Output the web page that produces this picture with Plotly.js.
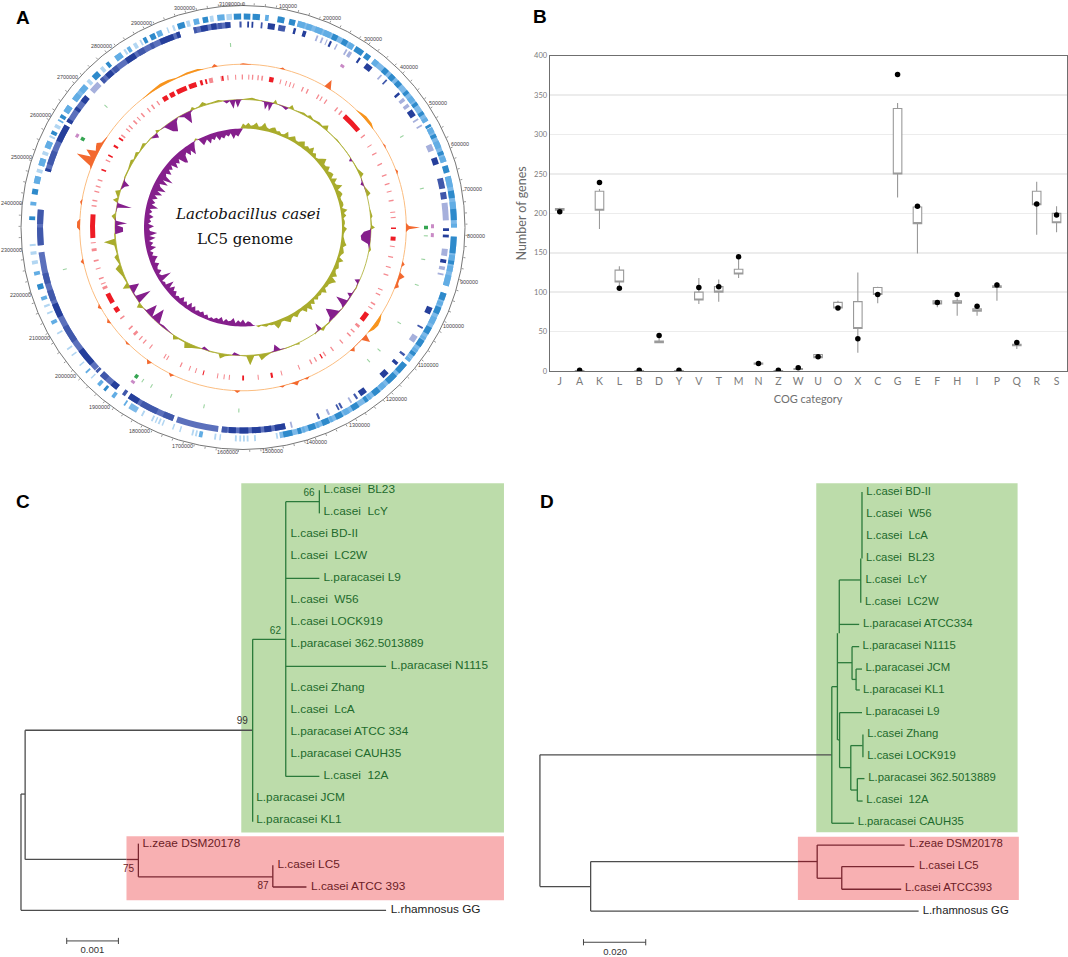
<!DOCTYPE html>
<html><head><meta charset="utf-8">
<script src="https://cdn.plot.ly/plotly-3.0.1.min.js"></script>
<style>html,body{margin:0;padding:0;background:#fff}</style></head>
<body><div id="chart" style="width:1068px;height:957px"></div>
<script>
/* ---------- Panel A: circular genome (angles in degrees clockwise from the origin) ---------- */
const genomeTickBp = [];
const genomeLength = 3130000;
const genomeMajorLabels = [0,100000,200000,300000,400000,500000,600000,700000,800000,900000,1000000,1100000,1200000,1300000,1400000,1500000,1600000,1700000,1800000,1900000,2000000,2100000,2200000,2300000,2400000,2500000,2600000,2700000,2800000,2900000,3000000,3100000];
const outerBand = [[15,31],[38,60],[62,72],[76,90],[92.5,106],[108,128],[130,170],[210,212.4],[282,284],[287,289],[292,294],[303,305],[307,312],[323,325]];
const outerStrong = [[0.2,2],[2.6,4.6],[9.4,11.3],[12.6,14.3],[25,26.5],[28,29.5],[32,34.5],[35.2,36.8],[41.5,43],[44,45.5],[46.5,48],[50,51],[54,55],[57,58],[61,61.8],[64,65],[69,70],[73,75],[80,82],[85,88],[92.5,97],[99,100],[108,110],[112,114],[118,120],[122,124],[126,127],[130,133],[134,137],[140,142],[144,145],[147,149],[152,154],[156,158],[160,162],[164,165],[166.5,169],[220,220.8],[253,254.5],[272,273],[279,280.5],[296,297],[301,302],[315,317],[320,321],[332,333],[334,335.5],[342,344],[349,350.5],[357.5,359.5]];
const outerMid = [[6,7],[15,17],[17.5,19],[20,22],[22.5,24.5],[30,31.5],[38,39.5],[52,53.5],[59,60],[62,63.5],[66,68],[70.5,72],[76,79],[83,85],[89,90],[97.5,99],[100.5,102],[103,106],[110.5,111.5],[115,117],[121,121.7],[125,125.8],[128,129],[138,139.5],[143,143.7],[150,151.5],[155,155.7],[159,159.6],[163,163.6],[191,192],[213.5,214],[217,218],[222,223],[227,227.5],[243,244],[250,251],[257,258],[276,277],[282,284],[287,289],[292,294],[300,300.5],[303,305],[307,309],[310,312],[323,325],[327,328],[336,337.5],[346.5,348],[353,355]];
const outerPale = [[170.5,171],[176.5,177],[178.5,179],[179.5,180],[180.5,181],[181.7,182.2],[186,186.4],[187.3,187.8],[192.5,193],[193.5,194],[197,197.4],[199,199.4],[202,202.4],[203,203.5],[204,204.4],[205,205.5],[208,208.5],[225,225.4],[229.6,230],[233,233.4],[235,235.5],[240,240.5],[246,246.5],[248,248.6],[260,261],[262.6,263.5],[265,265.5],[285,286],[290,291],[295,295.6],[298,299],[313,314],[318,319],[326,326.6],[329,330],[331,331.5],[339,339.4],[340.6,341.2],[344.5,345.5],[351,352],[355.5,357]];
const darkBand = [[168,186],[187,199],[200,214],[218,224],[226,263],[265,275],[286,300],[301,309],[316,342],[346,356]];
const darkStrong = [[1.2,1.7],[2.4,2.9],[7,9],[14.3,15],[17,18],[25,25.6],[34.3,34.9],[37,39],[49,49.7],[55,57],[70,72],[90.2,91],[92,92.8],[99,100],[113,115],[131,132],[135,137],[143,145],[168,171],[172,174],[175,177.5],[178.5,181],[182,184],[218,220],[211,214],[228,233],[244,248],[286,286.8],[295,300],[301,302],[305,306],[308,310],[318,320],[325,328],[336,340],[341,342],[348,350],[351,352.5],[355,356.5]];
const darkMid = [[5,5.5],[10,12],[44,44.5],[76,79],[80,82],[119,119.5],[128,128.7],[146,146.6],[151,151.6],[152,152.5],[158,158.6],[184.5,186],[200,203],[205,210],[215,216],[222,224],[225,225.8],[236,241],[249,252],[254,257],[265,270],[271,275],[288,292],[316,317],[320.5,322],[329,331],[333,334],[346,346.8],[353,354],[359,359.6]];
const darkPale = [[21,21.5],[22.5,23],[24,24.3],[27,27.4],[30,30.5],[31,32],[42,42.5],[51,52],[53,54],[58,58.5],[60,60.5],[66,68],[83,88],[96,98],[101,102],[103,103.5],[122,124],[148,148.5],[155,155.6],[166,166.5],[312,315]];
const redStrong = [[328,330],[331,333],[334,338],[339,342],[42.3,50],[90,90.6],[93.5,95],[124.5,128],[236,238],[240,244],[266,275],[168.6,169.4],[148.5,149],[352,352.6],[10,11.7],[343.5,344.5],[345.5,346.2],[195,195.4],[179.6,180.3],[302,302.8],[305.5,306.2],[292,292.6],[298,298.6]];
const redPale = [[347,348.5],[351.5,352],[354,354.5],[357,357.4],[359.5,360],[2,2.4],[3.4,3.9],[5.5,6],[7,7.6],[14.2,14.6],[16.4,16.8],[18,18.4],[19.4,19.8],[23,23.5],[25,25.5],[29.5,30],[31,31.4],[33,33.5],[38,38.5],[40,40.6],[52.5,53],[57,57.4],[60.5,61],[65,65.5],[69.5,70],[73,73.5],[76,76.4],[79.5,80],[84,84.4],[86,86.4],[97,97.4],[101,101.5],[105,105.4],[108,108.5],[114,114.4],[116,116.5],[120,120.6],[122,122.4],[130,131],[133,133.5],[135,135.6],[139,139.5],[143.5,144],[147,147.5],[151,151.5],[153,153.5],[158,158.4],[165,165.4],[174,174.4],[185,185.4],[187,187.4],[189.5,189.9],[198,198.4],[200.5,200.9],[204,204.5],[209.8,210.2],[211,211.4],[217.5,217.9],[220.5,221],[222.5,223],[225,226],[228,228.6],[233,233.6],[246,247],[248,248.4],[250,250.6],[254,254.4],[257,257.6],[261,262],[264,264.4],[278,278.5],[280,280.5],[283.5,284],[285.5,286],[288,288.5],[296,296.5],[307,307.6],[310,310.5],[311.5,312],[314,314.6],[316,316.4],[318,318.6],[321,321.5],[323,323.6],[325.5,326]];
const rnaPaleAngle = [356.1,311.5,60.2,77.7,92.6,100,108.3,121.4,132,136.7,181.3,192.3,203.1,210,213.2,256.8];
const rnaStrongAngle = [215.6,298.9,90];
const trnaAngle = [31.6,89.6,92.3,299,215.5];
// GC content: [angle, height above the baseline]
const gcSpikes = [[0,1.2],[3,.3],[13,.3],[14,2],[15,.3],[30,.3],[31,9],[32.5,.3],[59,.3],[60,1.5],[61,.3],[69,.3],[70,2],[71,.3],[88.5,.4],[89.5,3],[90,14],[90.6,3],[91.5,.4],[102,.4],[103,3],[104,.4],[106,.5],[107,6],[108.5,2],[110,2],[111,4],[112,.4],[131,.4],[132,8],[133.5,.6],[137,.4],[138,4],[139,.4],[156,.4],[157,2],[158,.5],[160,1],[161,4],[162,1.5],[163,.4],[165,.4],[166,2],[167,.4],[181,.4],[182,2.5],[183,.4],[205,.4],[206,3],[207,.4],[214,.4],[215,4],[216,.4],[224,.4],[225,2],[226,.4],[234,.4],[235,3],[236,.4],[240,.4],[241,3],[242,.4],[257,.4],[258,3],[259,.4],[269,.4],[270,3],[272,3],[273,.4],[278,.4],[279,2],[280,.4],[291,.4],[292,2],[294,19],[295,5],[296.5,12],[297.5,3],[299,5],[300,6],[301,2],[303.6,.5],[349,.4],[350,3],[351,.4],[359,.5]];
const gcArcs = [[322,.3],[326,1.5],[330,3],[333,2.5],[336,1],[340,2],[344,2],[346,.3],[44,.3],[46,2],[48,3],[51,2.5],[53,.3],[122,.3],[124,3],[126,4],[128,3],[130,.3]].sort((a,b)=>a[0]-b[0]);
// Outer skew track: [angle, outward + / inward -]
const skewOuter = [[0,.5],[4,2],[6,1],[8,.5],[9.5,-1],[10.5,-8],[11.5,-2],[12.5,-9],[13.5,-1],[14.4,4],[15.5,.5],[18,-1],[20,-3],[21,.5],[22,4],[23.5,.5],[26,1],[28,2],[30,1],[31,3],[33,1],[36,2],[38,1],[40,5],[41,.5],[45,.5],[47,1],[50,.5],[54,.5],[57,.5],[58,-3],[59,.5],[63,1],[66,4],[67,.5],[69,-1],[70,-3],[71,-.5],[75,4],[76,.5],[82,.5],[85,2],[86,.5],[89,1],[90,4],[91,-1],[92,-7],[94,-10],[96,-9],[97.5,-2],[100,2],[101,.5],[108,.5],[114,-1],[115,-5],[116,-1],[118,1],[121,-1],[122,-5],[123,-1],[125,-1],[126.5,-12],[128,-3],[129,.5],[131,-1],[133,-8],[134.5,-12],[136,-3],[138,1],[140,1],[142,3],[143,-8],[144,-1],[146,1],[154,2],[156,.5],[160,.5],[163,-1],[165,-7],[166,-1],[168,1],[170,3],[172,6],[173,1],[175,1],[177,10],[178.5,1],[181,.5],[184,-3],[185,.5],[188,2],[190,5],[191,.5],[195,1],[198,-3],[199,.5],[203,3],[206,6],[207,1],[210,1],[212,4],[213,.5],[216,-1],[219,-2],[221,-1],[224,-14],[225.5,-1],[228,-12],[229.5,-1],[231,.5],[233,5],[234,.5],[235.6,-16],[237.5,-1],[239,-1],[241.7,-10],[243,7],[244.5,1],[248,2],[252,6],[253.5,1],[257,4],[258,1],[262,2],[264,12],[265,1],[267,1],[268,-8],[270,-8],[271,-2],[272,-12],[273,-1],[275,4],[276.5,.5],[279,-1],[280,-15],[281,-1],[282,5],[283.5,1],[286,5],[287,.5],[289,-3],[290,-7],[291.5,-1],[293,1],[297,1],[301,3],[302,1],[305,3],[306,.5],[310,3],[311,.5],[314,1],[317,-5],[317.5,-1],[318,3],[319.5,.5],[322,-1],[324,-9],[326,-12],[328,-3],[329.5,.5],[332,-3],[334,-12],[335.5,-2],[337,3],[338,.5],[340,1],[342,4],[343.5,1],[346,1],[349,2],[351,.5],[352.5,-3],[354,-1],[355.5,-9],[356.5,-1],[357.5,-8],[359,-1]];
// Inner skew track: readings at equal steps around the circle
const skewInner = [5,3,6,3,4,7,3,4,8,4,3,5,6,3,4,2,3,7,2,4,6,3,3,5,7,3,5,4,8,3,5,2,3,6,9,4,4,7,3,5,6,2,7,3,4,9,3,5,6,3,3,4,4,2,7,3,5,2,3,3,2,5,3,2,2,3,4,6,3,4,5,3,2,7,3,4,5,3,4,7,3,9,6,4,4,3,7,3,4,3,5,2,6,3,9,4,7,3,3,4,6,3,4,7,5,3,3,6,8,3,3,2,3,2,1,2,0,-1,-4,-5,-3,-7,-4,-6,-3,-8,-5,-4,-6,-3,-7,-4,-5,-3,-4,-2,-5,-3,-6,-4,-5,-3,-7,-4,-8,-3,-6,-4,-8,-4,-5,-3,-7,-5,-9,-4,-11,-3,-4,-2,-14,-5,-3,-7,-4,-5,-8,-4,-6,-9,-4,-6,-3,-10,-5,-8,-4,-11,-5,-13,-6,-5,-10,-4,-7,-5,-9,-4,-7,-4,-12,-5,-8,-4,-9,-5,-12,-6,-14,-7,-5,-13,-6,-16,-7,-5,-10,-5,-8,-4,-11,-6,-9,-5,-12,-14,-7,-5,-10,-6,-12,-6,-1,2,-1,-8,-6,-4,-9,-5,-7,-4,-9,-6,-8,-5,-7,-4,-10,-6,-8,-4];

/* ---------- Panel B: COG categories ---------- */
const cogCategories = ['J','A','K','L','B','D','Y','V','T','M','N','Z','W','U','O','X','C','G','E','F','H','I','P','Q','R','S'];
const cogQ1    = [204,0,204,113,0,36,0,90,100,123,8.5,0,2,17,80,54,97,250,187,85,86,76,106,32,211,188];
const cogQ3    = [206,0.5,228,128,0.5,38,0.5,100,107,129,10,0.5,3,21,87,88,106,333,208,89,89,79,108,34,228,200];
const cogLow   = [203,0,180,105,0,36,0,85,88,118,8,0,2,16,79,23,86,220,149,81,70,70,89,28,173,176];
const cogHigh  = [207,0.5,231,133,0.5,43,0.5,118,116,145,10,0.5,3,21,89,125,107,340,210,90,92,82,113,36,240,209];
const cogLC5   = [202,1,239,105,1,45,1,106,107,145,9.5,1,4,18,80,41,97,376,209,87,97,82,109,36,212,198];
const cogTicks = [0,50,100,150,200,250,300,350,400];

/* ---------- Panel C: tree (distance in 0.001 units, row = leaf order) ---------- */
const cLeavesGreen = ['L.casei  BL23','L.casei  LcY','L.casei BD-II','L.casei  LC2W','L.paracasei L9','L.casei  W56','L.casei LOCK919','L.paracasei 362.5013889','L.paracasei N1115','L.casei Zhang','L.casei  LcA','L.paracasei ATCC 334','L.paracasei CAUH35','L.casei  12A','L.paracasei JCM','L.paracasei KL1'];
const cLeafDistGreen = [5.85,5.85,5.21,5.21,5.85,5.21,5.21,5.21,7.15,5.21,5.21,5.21,5.21,5.85,4.55,4.55];
const cLeafRowGreen = [1,2,3,4,5,6,7,8,9,10,11,12,13,14,15,16];
const cLeavesRed = ['L.zeae DSM20178','L.casei LC5','L.casei ATCC 393'];
const cLeafDistRed = [2.35,4.96,5.61];
const cLeafRowRed = [17.05,18.03,19.02];
const cHGreen = [[4.48,5.12,7.77],[5.12,5.77,1.52],[5.12,5.77,5],[5.12,7.06,9],[5.12,5.77,14]];
const cVGreen = [[4.48,7.77,16.06],[5.12,1.52,14],[5.77,1,2.05]];
const cHRed = [[2.04,2.27,17.77],[2.27,4.87,18.56],[4.87,5.52,19.02]];
const cVRed = [[2.27,17.05,18.56],[4.87,18.03,19.02]];
const cHBlack = [[0,0.08,14.8],[0.08,4.48,11.9],[0.08,2.04,17.77],[0,7.06,20.08]];
const cVBlack = [[0,14.8,20.08],[0.08,11.9,17.77]];
const cSupport = ['66','62','99','75','87'];
const cSupportDist = [5.57,4.92,4.28,2.08,4.68];
const cSupportRow = [1.14,7.4,11.5,18.23,18.98];

/* ---------- Panel D: tree (distance in 0.001 units) ---------- */
const dLeavesGreen = ['L.casei BD-II','L.casei  W56','L.casei  LcA','L.casei  BL23','L.casei  LcY','L.casei  LC2W','L.paracasei ATCC334','L.paracasei N1115','L.paracasei JCM','L.paracasei KL1','L.paracasei L9','L.casei Zhang','L.casei LOCK919','L.paracasei 362.5013889','L.casei  12A','L.paracasei CAUH35'];
const dLeafDistGreen = [104.9,104.9,104.9,104.8,104.6,104.5,103.8,103.7,104.6,103.8,104.6,105.2,105.2,105.5,104.9,102.1];
const dLeafRowGreen = [1,2,3,4,5,6,7,8,9,10,11,12,13,14,15,16];
const dLeavesRed = ['L.zeae DSM20178','L.casei LC5','L.casei ATCC393'];
const dLeafDistRed = [118.7,121.8,117.3];
const dLeafRowRed = [17.03,18.03,19.03];
const dHGreen = [[93.8,100.9,16.06],[93.8,95.6,9.85],[96.2,103.1,5],[96.2,102.6,7.02],[95.7,100.3,8.76],[100.3,102.6,8.03],[100.3,101.6,9.52],[101.6,103.5,9.05],[101.6,102.8,10],[95.7,96.3,12.27],[96.3,103.5,11.03],[96.3,99.9,13.53],[99.9,103.7,12.53],[99.9,102,14.55],[102,104.3,14.03],[102,103.7,15.05]];
const dVGreen = [[93.8,9.85,16.06],[95.6,7.42,12.27],[96.2,5,7.42],[100.3,8.03,9.52],[101.6,9.05,10],[96.3,11.03,13.53],[99.9,12.53,14.55],[103.8,12.02,13.06],[102,14.03,15.05],[103.1,4.02,6.03],[103.5,1,4.02]];
const dHRed = [[82.9,89.1,17.8],[89.1,117.2,17.05],[89.1,97,18.56],[97,120.3,18.03],[97,116.1,19.06]];
const dVRed = [[89.1,17.05,18.56],[97,18.03,19.06]];
const dHBlack = [[0,93.8,12.95],[0,16.3,18.94],[16.3,82.9,17.8],[16.3,121.7,20.05]];
const dVBlack = [[0,12.95,18.94],[16.3,17.8,20.05]];

/* ---------- helpers ---------- */
for (let b = 0; b < genomeLength; b += 25000) genomeTickBp.push(b);
const bpToDeg = b => b / genomeLength * 360;
function ring(blocks, base, h, color){
  return {type:'barpolar', theta:blocks.map(b=>(b[0]+b[1])/2), width:blocks.map(b=>Math.max(b[1]-b[0],0.3)),
    r:blocks.map(()=>h), base:blocks.map(()=>base), marker:{color:color,line:{width:0}}, hoverinfo:'skip'};
}
function marks(angles, base, h, w, color){ return ring(angles.map(a=>[a-w/2,a+w/2]), base, h, color); }
// Each run of close readings becomes its own polygon, so no chord cuts across the circle.
function band(pairs, base, pick, color, maxGap){
  const th=[],r=[]; let run=[];
  const flush=()=>{ if(run.length>1){
      run.forEach(p=>{th.push(p[0]); r.push(base+pick(p[1]));});
      for(let i=run.length-1;i>=0;i--){th.push(run[i][0]); r.push(base);}
      th.push(null); r.push(null);} run=[]; };
  pairs.forEach(p=>{ if(run.length && p[0]-run[run.length-1][0]>maxGap) flush(); run.push(p); });
  flush();
  return {type:'scatterpolar', mode:'lines', theta:th, r:r, fill:'toself', fillcolor:color, line:{width:0,color:color}, connectgaps:false, hoverinfo:'skip'};
}
function circle(r,color,w){
  const th=genomeTickBp.map(bpToDeg).concat([360]);
  return {type:'scatterpolar',mode:'lines',theta:th,r:th.map(()=>r),line:{color,width:w},hoverinfo:'skip'};
}
function tree(h,v,color,xa,ya,w){
  const x=[],y=[];
  h.forEach(s=>{x.push(s[0],s[1],null); y.push(s[2],s[2],null);});
  v.forEach(s=>{x.push(s[0],s[0],null); y.push(s[1],s[2],null);});
  return {type:'scatter',mode:'lines',x,y,xaxis:xa,yaxis:ya,line:{color,width:w||1.3},hoverinfo:'skip'};
}
function labels(text,x,y,color,xa,ya,size,pos){
  return {type:'scatter',mode:'text',x,y,text,xaxis:xa,yaxis:ya,textposition:pos||'middle right',cliponaxis:false,
    textfont:{family:'Liberation Sans, Arial, sans-serif',size:size||11.8,color},hoverinfo:'skip'};
}
const GREEN='#2b7a3b', GREENT='#1d6a2c', RED='#7a2630', REDT='#6b1c26', BLK='#4d4d4d';
const same=v=>v, pos=v=>Math.max(v,0), neg=v=>Math.min(v,0);
const skewInnerPairs = skewInner.map((v,i)=>[i*360/skewInner.length,v]).concat([[360,skewInner[0]]]);
const skewOuterPairs = skewOuter.concat([[360,skewOuter[0][1]]]);
const gcPairs = gcSpikes.concat([[360,gcSpikes[0][1]]]);

const traces = [
  ring(outerBand,208,6,'#7cb9e9'), ring(outerPale,208,6,'#b2d6f2'), ring(outerMid,208,6,'#62ade4'), ring(outerStrong,208,6,'#2e8acb'),
  ring(darkBand,200,6,'#5b70bc'), ring(darkPale,200,6,'#a6b0dc'), ring(darkMid,200,6,'#4058ab'), ring(darkStrong,200,6,'#253f9b'),
  marks(rnaPaleAngle,181,4,0.35,'#9bd3a0'), marks(rnaStrongAngle,181,4,1.1,'#35a552'), marks(trnaAngle,188,3,1.2,'#c98ac6'),
  circle(163.3,'#fbbd80',1),
  band(gcPairs,163,same,'#f3692f',3.5),
  band(gcArcs,163,same,'#f7941d',6),
  ring(redPale,148,5,'#f58a90'), ring(redStrong,148,5,'#ee1c25'),
  circle(128,'#a9ac2c',0.8),
  band(skewOuterPairs,128,pos,'#a9ac2c',5), band(skewOuterPairs,128,neg,'#851f8c',5),
  band(skewInnerPairs,99,pos,'#a9ac2c',3), band(skewInnerPairs,99,neg,'#851f8c',3),

  {type:'box',x:cogCategories,q1:cogQ1,median:cogQ1,q3:cogQ3,lowerfence:cogLow,upperfence:cogHigh,width:0.43,whiskerwidth:0,
   fillcolor:'#ffffff',line:{color:'#9a9a9a',width:1.1},boxpoints:false,hoverinfo:'skip'},
  {type:'scatter',mode:'markers',x:cogCategories,y:cogLC5,marker:{color:'#000',size:5.5},hoverinfo:'skip'},

  tree(cHBlack,cVBlack,BLK,'x2','y2'), tree(cHGreen,cVGreen,GREEN,'x2','y2'), tree(cHRed,cVRed,RED,'x2','y2'),
  labels(cLeavesGreen,cLeafDistGreen,cLeafRowGreen,GREENT,'x2','y2'),
  labels(cLeavesRed,cLeafDistRed,cLeafRowRed,REDT,'x2','y2'),
  labels(['L.rhamnosus GG'],[7.15],[20.05],'#222','x2','y2'),
  labels(cSupport.slice(0,2),cSupportDist.slice(0,2),cSupportRow.slice(0,2),GREENT,'x2','y2',10,'middle center'),
  labels(cSupport.slice(2,3),cSupportDist.slice(2,3),cSupportRow.slice(2,3),'#333','x2','y2',10,'middle center'),
  labels(cSupport.slice(3),cSupportDist.slice(3),cSupportRow.slice(3),REDT,'x2','y2',10,'middle center'),
  tree([[0.884,1.884,21.47]],[[0.884,21.33,21.61],[1.884,21.33,21.61]],'#444','x2','y2',1),
  labels(['0.001'],[1.38],[21.93],'#333','x2','y2',9.5,'middle center'),

  tree(dHBlack,dVBlack,BLK,'x3','y3'), tree(dHGreen,dVGreen,GREEN,'x3','y3'), tree(dHRed,dVRed,RED,'x3','y3'),
  labels(dLeavesGreen,dLeafDistGreen,dLeafRowGreen,GREENT,'x3','y3',11.3),
  labels(dLeavesRed,dLeafDistRed,dLeafRowRed,REDT,'x3','y3',11.3),
  labels(['L.rhamnosus GG'],[123],[20.05],'#222','x3','y3',11.3),
  tree([[14,34,21.47]],[[14,21.33,21.61],[34,21.33,21.61]],'#444','x3','y3',1),
  labels(['0.020'],[24.2],[21.93],'#333','x3','y3',9.5,'middle center')
];

const W=1068,H=957, px=x=>x/W, py=y=>(H-y)/H;
const hidden = {visible:false,showgrid:false,zeroline:false};
const letter=(t,x,y)=>({text:'<b>'+t+'</b>',x:px(x),y:py(y),xref:'paper',yref:'paper',showarrow:false,xanchor:'center',yanchor:'middle',
  font:{family:'Liberation Sans, Arial, sans-serif',size:19,color:'#000'}});
// Position labels of the circular scale sit just outside the ring; they follow the ring's centre and tick angle.
const CX=243, CY=227.5;
const ringLabels = genomeMajorLabels.map(b=>{
  const a=bpToDeg(b)*Math.PI/180, r=224.5+8.5*Math.abs(Math.sin(a));
  const xp=CX+r*Math.sin(a), yp=Math.max(CY-r*Math.cos(a),3.5);
  return {text:String(b),x:px(Math.max(xp,10.5)),y:py(yp),xref:'paper',yref:'paper',showarrow:false,xanchor:'center',yanchor:'middle',
    borderpad:0,font:{family:'Liberation Sans, Arial, sans-serif',size:5.4,color:'#444'}};
});
const layout = {
  width:W,height:H,margin:{l:0,r:0,t:0,b:0},paper_bgcolor:'#fff',plot_bgcolor:'#fff',showlegend:false,hovermode:false,
  polar:{domain:{x:[px(21),px(465)],y:[py(449.5),py(5.5)]},barmode:'overlay',bgcolor:'rgba(0,0,0,0)',
    radialaxis:{visible:false,range:[0,222]},
    angularaxis:{rotation:90,direction:'clockwise',thetaunit:'degrees',linecolor:'#777',linewidth:1,showgrid:false,
      ticks:'outside',ticklen:2,tickcolor:'#777',tickwidth:0.7,tickvals:genomeTickBp.map(bpToDeg),showticklabels:false}},
  xaxis:{domain:[px(549.8),px(1066.5)],type:'category',categoryorder:'array',categoryarray:cogCategories,range:[-0.5,25.5],anchor:'y',
    showline:true,mirror:true,linecolor:'#6f6f6f',linewidth:1.2,showgrid:false,zeroline:false,ticks:'',
    tickfont:{family:'Lato, sans-serif',size:10.5,color:'#7a7a7a'},title:{text:'COG category',standoff:9,font:{family:'Lato, sans-serif',size:11,color:'#6f6f6f'}}},
  yaxis:{domain:[py(371),py(55.7)],range:[0,400],anchor:'x',tickvals:cogTicks,showline:true,mirror:true,linecolor:'#6f6f6f',linewidth:1.2,
    gridcolor:'#ececec',gridwidth:1.5,zeroline:false,ticks:'',tickfont:{family:'Lato, sans-serif',size:7.5,color:'#7a7a7a'},
    title:{text:'Number of genes',standoff:4,font:{family:'Lato, sans-serif',size:12.5,color:'#6a6a6a'}}},
  xaxis2:Object.assign({domain:[0,px(520)],range:[-0.406,9.65],anchor:'y2'},hidden),
  yaxis2:Object.assign({domain:[0,py(470)],range:[22.2,0.08],anchor:'x2'},hidden),
  xaxis3:Object.assign({domain:[px(520),1],range:[-6.4,169.7],anchor:'y3'},hidden),
  yaxis3:Object.assign({domain:[0,py(470)],range:[22.14,0],anchor:'x3'},hidden),
  shapes:[
    {type:'rect',xref:'x2',yref:'y2',x0:4.26,x1:9.34,y0:0.68,y1:16.55,fillcolor:'#bcdcaa',line:{width:0},layer:'below'},
    {type:'rect',xref:'x2',yref:'y2',x0:2.04,x1:9.34,y0:16.71,y1:19.62,fillcolor:'#f8b0b2',line:{width:0},layer:'below'},
    {type:'rect',xref:'x3',yref:'y3',x0:88.8,x1:153.5,y0:0.6,y1:16.47,fillcolor:'#bcdcaa',line:{width:0},layer:'below'},
    {type:'rect',xref:'x3',yref:'y3',x0:82.9,x1:153.9,y0:16.67,y1:19.55,fillcolor:'#f8b0b2',line:{width:0},layer:'below'}
  ],
  annotations:ringLabels.concat([
    letter('A',23,17),letter('B',540,16),letter('C',23,502),letter('D',547,502),
    {text:'<i>Lactobacillus casei</i>',x:px(248),y:py(214),xref:'paper',yref:'paper',xanchor:'center',yanchor:'middle',showarrow:false,font:{family:'DejaVu Serif, serif',size:15,color:'#111'}},
    {text:'LC5 genome',x:px(244.5),y:py(239),xref:'paper',yref:'paper',xanchor:'center',yanchor:'middle',showarrow:false,font:{family:'DejaVu Serif, serif',size:15,color:'#111'}}
  ])
};
Plotly.newPlot('chart',traces,layout,{staticPlot:true,displayModeBar:false});
</script></body></html>
